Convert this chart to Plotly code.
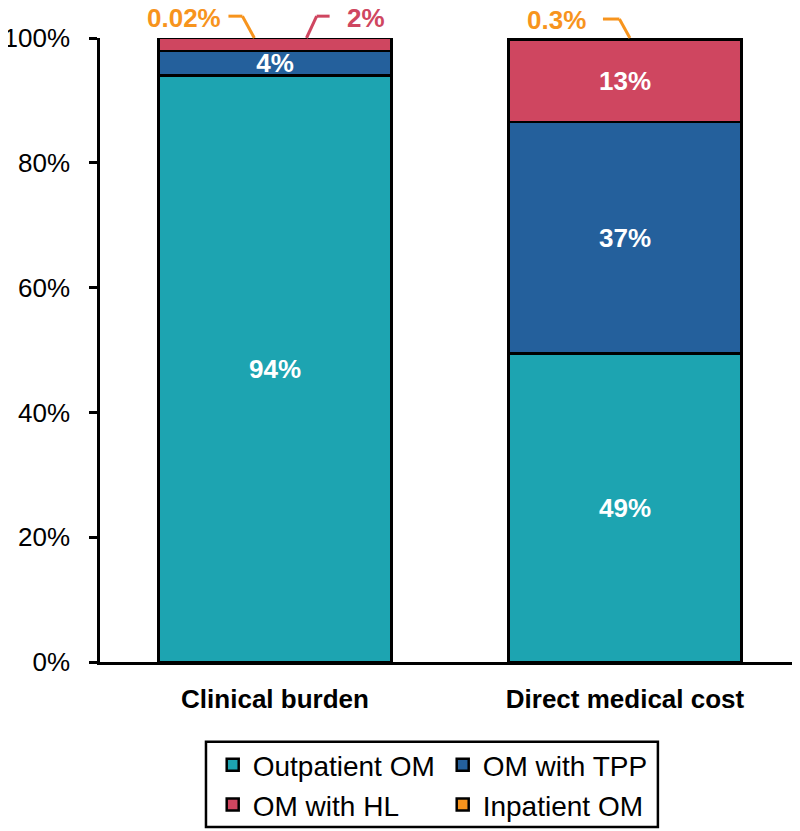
import plotly.graph_objects as go

categories = ["Clinical burden", "Direct medical cost"]
series_names = ["Outpatient OM", "OM with TPP", "OM with HL", "Inpatient OM"]
outpatient = [94.0, 49.4]
tpp = [3.9, 37.1]
hl = [2.08, 13.2]
inpatient = [0.02, 0.3]
inside_labels = [["94%", "49%"], ["4%", "37%"], ["", "13%"], ["", ""]]
outside_labels = [("0.02%", 0, 3), ("2%", 0, 2), ("0.3%", 1, 3)]  # text, category index, series index
y_tick_values = [0, 20, 40, 60, 80, 100]
y_tick_labels = ["0%", "20%", "40%", "60%", "80%", "100%"]
legend_rows = ["legend", "legend", "legend2", "legend2"]

colors = ["#1DA4B1", "#24609C", "#CF4660", "#F7941D"]
values = [outpatient, tpp, hl, inpatient]

FONT = "Liberation Sans, Arial, sans-serif"

fig = go.Figure()
for name, vals, col, labs, lg in zip(series_names, values, colors, inside_labels, legend_rows):
    fig.add_trace(go.Bar(
        x=categories, y=vals, name=name, legend=lg,
        marker=dict(color=col, line=dict(color="black", width=2.5)),
        text=labs, textposition="inside", insidetextanchor="middle",
        textangle=0,
        textfont=dict(family=FONT, size=26, color="white", weight="bold"),
        width=0.667, cliponaxis=False, hoverinfo="skip",
    ))

# outside labels with leader lines (offsets relative to category index)
label_pos = {
    "0.02%": (-0.259, 1.032, [(-0.133, 1.035), (-0.093, 1.035), (-0.059, 1.0)]),
    "2%": (0.259, 1.032, [(0.156, 1.035), (0.119, 1.035), (0.090, 1.0)]),
    "0.3%": (-0.197, 1.029, [(-0.063, 1.0304), (-0.016, 1.0304), (0.014, 1.0)]),
}
for text, ci, si in outside_labels:
    dx, ty, pts = label_pos[text]
    col = colors[si]
    fig.add_annotation(x=ci + dx, y=ty, xref="x", yref="paper", text=text,
                       showarrow=False, xanchor="center", yanchor="middle",
                       font=dict(family=FONT, size=26, color=col, weight="bold"))
    for (x0, y0), (x1, y1) in zip(pts[:-1], pts[1:]):
        fig.add_shape(type="line", xref="x", yref="paper",
                      x0=ci + x0, y0=y0, x1=ci + x1, y1=y1,
                      line=dict(color=col, width=3))

# legend frame
fig.add_shape(type="rect", xref="paper", yref="paper",
              x0=0.1514, x1=0.797, y0=-0.2644, y1=-0.128,
              line=dict(color="black", width=2.5), fillcolor="rgba(0,0,0,0)")

legend_common = dict(
    orientation="h", traceorder="normal", xanchor="left", yanchor="middle",
    borderwidth=0, bgcolor="rgba(0,0,0,0)",
    font=dict(family=FONT, size=28, color="black"),
    entrywidth=185, itemclick=False, itemdoubleclick=False,
)

fig.update_layout(
    width=792, height=823,
    barmode="stack",
    margin=dict(l=92, r=0, t=30, b=169, autoexpand=False),
    paper_bgcolor="white", plot_bgcolor="white",
    font=dict(family=FONT, size=26, color="black"),
    uniformtext=dict(minsize=26, mode="show"),
    showlegend=True,
    legend=dict(x=0.161, y=-0.165, **legend_common),
    legend2=dict(x=0.161, y=-0.229, **legend_common),
    xaxis=dict(
        type="category", range=[-0.5, 1.5], showline=True, linecolor="black",
        linewidth=2.5, ticks="", showgrid=False, zeroline=False,
        ticklabelstandoff=12,
        tickfont=dict(family=FONT, size=26, color="black", weight="bold"),
    ),
    yaxis=dict(
        range=[0, 100], tickmode="array", tickvals=y_tick_values,
        ticktext=y_tick_labels,
        showline=True, linecolor="black", linewidth=2.5, ticks="outside",
        ticklen=8, tickwidth=2.5, tickcolor="black", showgrid=False,
        zeroline=False, ticklabelstandoff=14,
        tickfont=dict(family=FONT, size=26, color="black"),
    ),
)

fig.write_html("out.html")
